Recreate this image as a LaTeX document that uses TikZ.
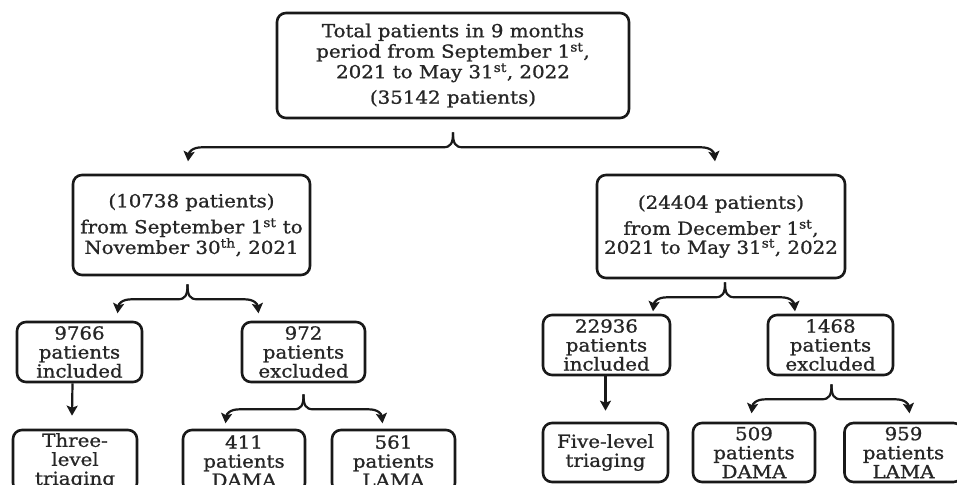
\documentclass[tikz,border=0pt]{standalone}
\usepackage{fontspec}
\setmainfont{DejaVu Serif}[FakeStretch=1.1, FakeBold=1.0]
\usetikzlibrary{arrows.meta,calc}
\definecolor{txt}{HTML}{262626}
\newcommand\splitbr[3]{%
  \draw[conn] (#1) .. controls ($(#1)+(0,11)$) and ($(#1)+(-2,15)$) .. ($(#1)+(-10,15)$)
    -- ($(#1)+(#2+14,15)$) .. controls ($(#1)+(#2+4,15)$) and ($(#1)+(#2+1,20)$) .. ($(#1)+(#2,29)$);
  \draw[conn] (#1) .. controls ($(#1)+(0,11)$) and ($(#1)+(2,15)$) .. ($(#1)+(10,15)$)
    -- ($(#1)+(#3-14,15)$) .. controls ($(#1)+(#3-4,15)$) and ($(#1)+(#3-1,20)$) .. ($(#1)+(#3,29)$);
}
\begin{document}
\begin{tikzpicture}[x=1pt,y=-1pt,
  box/.style={draw=black!90, line width=2.6pt, rounded corners=9pt, align=center,
    inner sep=0pt, text=txt, font=\fontsize{18}{19}\selectfont},
  conn/.style={draw=black!90, line width=2.2pt, -{Stealth[length=10pt,width=11pt,inset=2pt]}}]
\useasboundingbox (0,0) rectangle (957,484);
\clip (0,0) rectangle (957,484);
\fill[white] (0,0) rectangle (957,484);

% top
\node[box, minimum width=352pt, minimum height=105pt, font=\fontsize{18}{20.5}\selectfont] (total) at (453,65.5)
  {Total patients in 9 months\\period from September 1\textsuperscript{st},\\2021 to May 31\textsuperscript{st}, 2022\\[5pt](35142 patients)};

% middle
\node[box, minimum width=237pt, minimum height=100pt] (p1) at (191.5,225)
  {(10738 patients)\\[7pt]from September 1\textsuperscript{st} to\\November 30\textsuperscript{th}, 2021};
\node[box, minimum width=248pt, minimum height=103pt] (p2) at (721,226.5)
  {(24404 patients)\\[7pt]from December 1\textsuperscript{st},\\2021 to May 31\textsuperscript{st}, 2022};

% third row
\node[box, minimum width=125pt, minimum height=60pt] (inc1) at (79.5,352) {9766\\patients\\included};
\node[box, minimum width=123pt, minimum height=60pt] (exc1) at (303.5,352) {972\\patients\\excluded};
\node[box, minimum width=127pt, minimum height=60pt] (inc2) at (606.5,345) {22936\\patients\\included};
\node[box, minimum width=125pt, minimum height=60pt] (exc2) at (830.5,345) {1468\\patients\\excluded};

% bottom row
\node[box, minimum width=124pt, minimum height=62pt] (tri1) at (75,461) {Three-\\level\\triaging};
\node[box, minimum width=122pt, minimum height=62pt] (dama1) at (244,461) {411\\patients\\DAMA};
\node[box, minimum width=123pt, minimum height=62pt] (lama1) at (393.5,461) {561\\patients\\LAMA};
\node[box, minimum width=125pt, minimum height=59pt] (tri2) at (605.5,452.5) {Five-level\\triaging};
\node[box, minimum width=122pt, minimum height=59pt] (dama2) at (754,452.5) {509\\patients\\DAMA};
\node[box, minimum width=118pt, minimum height=59pt] (lama2) at (903.5,452.5) {959\\patients\\LAMA};

% braces
\coordinate (b0) at ($(total.south)+(0,13)$);
\coordinate (b1) at ($(p1.south)+(-4,8)$);
\coordinate (b2) at ($(p2.south)+(4,3)$);
\coordinate (b3) at ($(exc1.south)+(0,11)$);
\coordinate (b4) at ($(exc2.south)+(1,8)$);
\splitbr{b0}{-265}{262}
\splitbr{b1}{-70}{71}
\splitbr{b2}{-72}{70}
\splitbr{b3}{-78}{79}
\splitbr{b4}{-80}{78}

% straight arrows
\draw[conn] ([xshift=-7pt]inc1.south) -- ([xshift=-3pt,yshift=13pt]tri1.north);
\draw[conn] ([xshift=-1pt]inc2.south) -- ([yshift=11pt]tri2.north);
\end{tikzpicture}
\end{document}
